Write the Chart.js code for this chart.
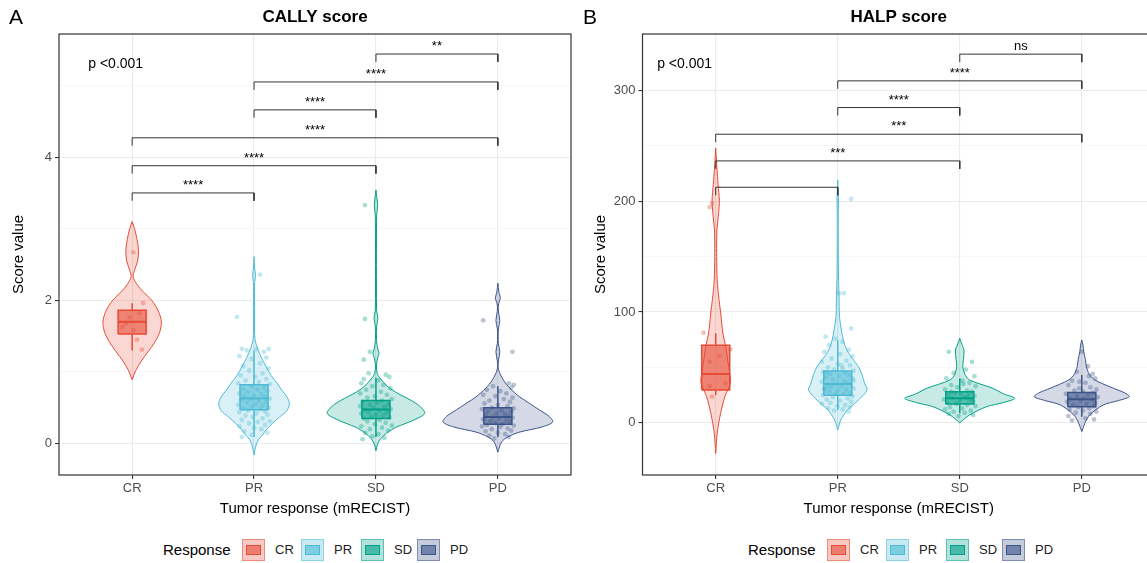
<!DOCTYPE html>
<html>
<head>
<meta charset="utf-8">
<script src="https://cdn.jsdelivr.net/npm/chart.js@4.4.1/dist/chart.umd.min.js"></script>
<style>
body{margin:0;width:1147px;height:563px;overflow:hidden;background:#fff;position:relative;font-family:"Liberation Sans",Arial,sans-serif}
canvas{position:absolute;top:0}
#cA{left:0}
#cB{left:580px}
.lg{position:absolute;top:538px;height:24px;line-height:24px;color:#000}
.lgt{font-size:15px}
.lgl{font-size:13px;color:#222}
.key{position:absolute;top:539px;width:21px;height:20px;border:1px solid}
.key i{position:absolute;left:3px;right:3px;top:5px;height:8px;border:1px solid}
</style>
</head>
<body>
<canvas id="cA" width="575" height="520"></canvas>
<canvas id="cB" width="580" height="520"></canvas>
<div id="legends"></div>
<script>
const FONT = '"Liberation Sans", Arial, sans-serif';
const cats = ['CR', 'PR', 'SD', 'PD'];
const colors = ['#E64B35', '#4DBBD5', '#00A087', '#3C5488'];
const boxHalf = 0.115;

// ---- CALLY score ----
const callyViolinY = [
	[0.89, 1.02, 1.15, 1.28, 1.40, 1.55, 1.70, 1.85, 2.00, 2.12, 2.22, 2.33, 2.42, 2.55, 2.70, 2.85, 3.00, 3.10],
	[-0.16, -0.05, 0.05, 0.12, 0.19, 0.28, 0.37, 0.46, 0.56, 0.65, 0.74, 0.84, 0.95, 1.07, 1.20, 1.32, 1.45, 1.60, 1.80, 2.00, 2.25, 2.35, 2.45, 2.61],
	[-0.10, 0.00, 0.07, 0.15, 0.23, 0.32, 0.42, 0.52, 0.61, 0.70, 0.79, 0.92, 0.98, 1.10, 1.20, 1.26, 1.32, 1.45, 1.65, 1.75, 1.85, 2.20, 2.80, 3.20, 3.33, 3.45, 3.54],
	[-0.12, 0.02, 0.09, 0.16, 0.23, 0.30, 0.38, 0.47, 0.56, 0.65, 0.77, 0.89, 1.03, 1.15, 1.28, 1.40, 1.60, 1.72, 1.85, 1.95, 2.03, 2.12, 2.24]
];
const callyViolinW = [
	[0, 0.03, 0.075, 0.13, 0.18, 0.225, 0.24, 0.215, 0.16, 0.09, 0.04, 0.008, 0.02, 0.045, 0.052, 0.04, 0.02, 0],
	[0, 0.012, 0.035, 0.07, 0.10, 0.15, 0.21, 0.27, 0.29, 0.27, 0.23, 0.19, 0.14, 0.10, 0.06, 0.03, 0.008, 0.004, 0.005, 0.004, 0.005, 0.012, 0.005, 0],
	[0, 0.015, 0.04, 0.09, 0.17, 0.30, 0.40, 0.36, 0.28, 0.18, 0.10, 0.03, 0.01, 0.004, 0.015, 0.025, 0.015, 0.004, 0.006, 0.016, 0.006, 0.004, 0.004, 0.006, 0.014, 0.006, 0],
	[0, 0.03, 0.08, 0.18, 0.36, 0.45, 0.42, 0.34, 0.26, 0.18, 0.10, 0.044, 0.006, 0.004, 0.016, 0.004, 0.004, 0.016, 0.004, 0.006, 0.02, 0.008, 0]
];
// [lower whisker, q1, median, q3, upper whisker]
const callyBox = [
	[1.30, 1.53, 1.70, 1.86, 1.96],
	[0.09, 0.47, 0.63, 0.82, 1.30],
	[0.09, 0.35, 0.475, 0.60, 0.92],
	[0.09, 0.27, 0.37, 0.50, 0.80]
];
// [jitter offset, value]
const callyPoints = [
	[[0.01, 2.67], [0.09, 1.96], [-0.02, 1.76], [-0.08, 1.63], [0.01, 1.58], [0.04, 1.45], [0.08, 1.31], [-0.05, 1.68], [0.06, 1.82]],
	[[-0.10, 1.32], [0.02, 1.32], [0.12, 1.32], [-0.06, 1.30], [0.08, 1.28], [-0.12, 1.22], [0.10, 1.20], [-0.02, 1.18], [0.05, 1.12], [-0.09, 1.08], [0.12, 1.05], [-0.04, 1.02], [0.07, 0.98], [-0.11, 0.95], [0.01, 0.93], [0.10, 0.90], [-0.07, 0.88], [0.04, 0.86], [-0.13, 0.84], [0.13, 0.83], [-0.02, 0.80], [0.08, 0.78], [-0.09, 0.76], [0.03, 0.75], [0.11, 0.73], [-0.05, 0.72], [-0.12, 0.70], [0.06, 0.69], [0.00, 0.67], [-0.08, 0.66], [0.09, 0.65], [0.13, 0.63], [-0.03, 0.62], [-0.11, 0.61], [0.04, 0.60], [0.10, 0.58], [-0.06, 0.57], [0.01, 0.55], [-0.13, 0.54], [0.07, 0.53], [-0.02, 0.51], [0.12, 0.50], [-0.09, 0.49], [0.05, 0.48], [-0.05, 0.46], [0.09, 0.45], [-0.12, 0.44], [0.02, 0.42], [0.11, 0.40], [-0.07, 0.39], [-0.01, 0.37], [0.07, 0.35], [-0.10, 0.33], [0.13, 0.31], [0.03, 0.30], [-0.04, 0.28], [0.09, 0.26], [-0.12, 0.24], [0.00, 0.22], [0.06, 0.20], [-0.08, 0.17], [0.11, 0.15], [-0.02, 0.12], [-0.10, 0.09], [-0.14, 1.77], [0.05, 2.36]],
	[[-0.06, 0.98], [0.08, 0.96], [0.11, 0.93], [-0.10, 0.90], [0.02, 0.88], [-0.12, 0.84], [0.06, 0.82], [-0.03, 0.80], [0.12, 0.77], [-0.08, 0.75], [0.04, 0.72], [-0.13, 0.70], [0.09, 0.68], [-0.01, 0.66], [-0.07, 0.64], [0.13, 0.62], [0.05, 0.60], [-0.11, 0.58], [0.01, 0.57], [0.10, 0.55], [-0.05, 0.54], [-0.13, 0.52], [0.07, 0.51], [-0.02, 0.50], [0.12, 0.48], [-0.09, 0.47], [0.03, 0.46], [-0.06, 0.44], [0.09, 0.43], [-0.12, 0.42], [0.00, 0.40], [0.06, 0.39], [-0.04, 0.37], [0.11, 0.36], [-0.10, 0.35], [0.03, 0.33], [-0.07, 0.31], [0.08, 0.29], [-0.01, 0.27], [0.13, 0.25], [-0.12, 0.24], [0.05, 0.22], [-0.05, 0.20], [0.10, 0.18], [-0.09, 0.15], [0.02, 0.13], [-0.03, 0.10], [0.07, 0.08], [-0.11, 0.06], [-0.09, 1.74], [-0.05, 1.28], [-0.10, 1.17], [-0.09, 3.33]],
	[[0.09, 0.84], [0.13, 0.82], [-0.04, 0.80], [0.11, 0.78], [-0.09, 0.75], [0.02, 0.73], [0.07, 0.70], [-0.12, 0.68], [-0.02, 0.66], [0.12, 0.64], [0.05, 0.62], [-0.07, 0.60], [0.10, 0.58], [-0.11, 0.56], [0.00, 0.54], [0.08, 0.52], [-0.05, 0.50], [0.13, 0.49], [-0.13, 0.48], [0.03, 0.46], [-0.08, 0.45], [0.11, 0.44], [-0.01, 0.42], [0.06, 0.41], [-0.10, 0.40], [0.09, 0.38], [-0.04, 0.37], [0.12, 0.36], [0.01, 0.35], [-0.12, 0.34], [0.07, 0.32], [-0.06, 0.31], [0.10, 0.30], [-0.02, 0.29], [0.04, 0.27], [-0.09, 0.26], [0.13, 0.25], [-0.13, 0.24], [0.02, 0.23], [0.08, 0.21], [-0.05, 0.20], [0.11, 0.18], [-0.10, 0.17], [0.00, 0.15], [0.06, 0.13], [-0.07, 0.11], [0.09, 0.09], [-0.03, 0.07], [-0.12, 1.72], [0.12, 1.28]]
];
const callyPairs = [[1, 2], [1, 3], [1, 4], [2, 3], [2, 4], [3, 4]];
const callyBracketY = [3.50, 3.88, 4.27, 4.66, 5.05, 5.44];
const callyLabels = ['****', '****', '****', '****', '****', '**'];

// ---- HALP score ----
const halpViolinY = [
	[-27.7, -9.6, 8.5, 23.5, 35.8, 44.6, 55, 68.7, 80, 89.8, 100, 111, 129, 150, 165, 174, 185, 195, 201, 215, 230, 248],
	[-6.6, 2.4, 11.5, 20.5, 29.5, 35.6, 43, 50.6, 58, 65.7, 75, 83.7, 95, 104.8, 117, 132, 160, 190, 203, 219],
	[0, 7, 14.5, 18, 22, 26, 31.1, 38.6, 44, 50.6, 57, 65.7, 70, 76.2],
	[-8.1, -0.5, 7, 16, 20, 23.5, 27, 31.1, 38.6, 44, 50.6, 57, 64, 70, 74.7]
];
const halpViolinW = [
	[0, 0.012, 0.04, 0.075, 0.12, 0.115, 0.10, 0.082, 0.06, 0.049, 0.04, 0.027, 0.012, 0.008, 0.008, 0.01, 0.02, 0.028, 0.03, 0.02, 0.01, 0],
	[0, 0.025, 0.08, 0.17, 0.24, 0.22, 0.20, 0.17, 0.12, 0.074, 0.045, 0.03, 0.015, 0.012, 0.01, 0.006, 0.004, 0.004, 0.006, 0],
	[0, 0.08, 0.22, 0.35, 0.45, 0.36, 0.27, 0.08, 0.04, 0.025, 0.03, 0.035, 0.02, 0],
	[0, 0.025, 0.065, 0.175, 0.30, 0.39, 0.35, 0.26, 0.107, 0.06, 0.038, 0.03, 0.016, 0.01, 0]
];
const halpBox = [
	[25, 29.5, 44, 69.9, 80.8],
	[11.5, 24.7, 35, 46.7, 74.7],
	[8.5, 16.9, 22, 28, 40],
	[5.4, 14.5, 21.1, 27.4, 43.1]
];
const halpPoints = [
	[[-0.05, 194.6], [-0.03, 198], [-0.10, 81.3], [0.12, 66.3], [-0.05, 55], [-0.05, 33], [-0.03, 23.5], [0.08, 35.6], [0.03, 60]],
	[[0.01, 117], [0.05, 117], [0.11, 202], [0.11, 85], [-0.10, 77.7], [-0.02, 76], [0.04, 73], [-0.07, 70], [0.09, 66], [-0.11, 64], [0.02, 62], [0.12, 60], [-0.05, 58], [0.07, 56], [-0.13, 55], [0.00, 53], [0.10, 52], [-0.08, 50], [0.04, 49], [-0.03, 48], [0.13, 47], [-0.12, 46], [0.06, 45], [-0.06, 44], [0.09, 43], [0.01, 42], [-0.10, 41], [0.12, 40], [-0.04, 39], [0.05, 38], [-0.13, 37], [0.08, 36], [-0.01, 35], [0.11, 34], [-0.08, 33], [0.03, 33], [-0.05, 32], [0.13, 31], [-0.11, 30], [0.07, 30], [0.00, 29], [-0.07, 28], [0.10, 27], [-0.02, 26], [0.05, 26], [-0.12, 25], [0.12, 24], [-0.04, 23], [0.08, 22], [-0.09, 21], [0.02, 20], [0.11, 19], [-0.06, 18], [-0.13, 17], [0.06, 16], [0.00, 15], [0.10, 14], [-0.08, 13], [0.04, 12], [-0.03, 11], [0.09, 10], [-0.11, 31], [0.13, 38], [-0.09, 45], [0.03, 52]],
	[[-0.09, 64], [0.10, 55], [0.05, 48], [-0.05, 45], [0.12, 42], [-0.11, 40], [0.02, 38], [0.08, 36], [-0.07, 34], [0.13, 33], [-0.02, 32], [-0.12, 30], [0.06, 29], [0.10, 28], [-0.04, 27], [0.01, 26], [-0.09, 25], [0.12, 24], [0.04, 23], [-0.06, 22], [-0.13, 21], [0.08, 21], [0.00, 20], [0.11, 19], [-0.10, 18], [-0.03, 17], [0.06, 16], [0.13, 15], [-0.08, 14], [0.02, 13], [-0.12, 12], [0.09, 11], [-0.05, 10], [0.04, 9], [-0.09, 8], [0.11, 7], [-0.01, 6], [0.07, 25], [-0.07, 28], [0.03, 35]],
	[[0.00, 64], [0.05, 51], [-0.04, 46], [0.09, 44], [0.11, 40], [-0.08, 38], [0.03, 36], [-0.11, 34], [0.07, 32], [-0.02, 31], [0.12, 30], [-0.06, 29], [0.01, 28], [0.09, 27], [-0.13, 26], [0.05, 25], [-0.04, 24], [0.13, 23], [-0.09, 22], [0.02, 22], [0.08, 21], [-0.01, 20], [-0.12, 19], [0.11, 18], [0.04, 17], [-0.07, 16], [0.10, 15], [-0.03, 14], [0.06, 13], [-0.10, 12], [0.01, 11], [0.12, 10], [-0.05, 9], [0.07, 8], [-0.11, 6], [0.03, 4], [-0.08, 2], [0.10, 3], [-0.02, 37], [0.06, 42]]
];
const halpPairs = [[1, 2], [1, 3], [1, 4], [2, 3], [2, 4], [3, 4]];
const halpBracketY = [212.6, 236.4, 260.5, 284.6, 308.7, 332.8];
const halpLabels = ['', '***', '***', '****', '****', 'ns'];

function rgba(hex, a) {
	const n = parseInt(hex.slice(1), 16);
	return `rgba(${n >> 16}, ${(n >> 8) & 255}, ${n & 255}, ${a})`;
}

function montarDatasets(violY, violW, boxes, pts, pairs, bracketY, drop) {
	const ds = [];
	cats.forEach((c, i) => {
		const x0 = i + 1;
		const cor = colors[i];
		const dir = violY[i].map((v, k) => ({ x: x0 + violW[i][k], y: v }));
		const esq = violY[i].map((v, k) => ({ x: x0 - violW[i][k], y: v })).reverse();
		ds.push({ data: dir.concat(esq), fill: 'shape', backgroundColor: rgba(cor, 0.22), borderColor: cor, borderWidth: 1, pointRadius: 0, tension: 0.3, order: 6 });

		const [lo, q1, md, q3, hi] = boxes[i];
		ds.push({
			data: [{ x: x0 - boxHalf, y: q1 }, { x: x0 + boxHalf, y: q1 }, { x: x0 + boxHalf, y: q3 }, { x: x0 - boxHalf, y: q3 }, { x: x0 - boxHalf, y: q1 }],
			fill: 'shape', backgroundColor: rgba(cor, 0.6), borderColor: cor, borderWidth: 1.5, pointRadius: 0, tension: 0, order: 5
		});
		ds.push({
			data: [{ x: x0, y: lo }, { x: x0, y: q1 }, { x: x0, y: null }, { x: x0, y: q3 }, { x: x0, y: hi }],
			fill: false, borderColor: cor, borderWidth: 1.5, pointRadius: 0, tension: 0, spanGaps: false, order: 4
		});
		ds.push({
			data: [{ x: x0 - boxHalf, y: md }, { x: x0 + boxHalf, y: md }],
			fill: false, borderColor: cor, borderWidth: 2, pointRadius: 0, tension: 0, order: 4
		});
		ds.push({
			data: pts[i].map(p => ({ x: x0 + p[0], y: p[1] })),
			showLine: false, pointRadius: 2.4, pointBackgroundColor: rgba(cor, 0.35), pointBorderWidth: 0, order: 3
		});
	});
	pairs.forEach((p, i) => {
		const y = bracketY[i];
		ds.push({
			data: [{ x: p[0], y: y - drop }, { x: p[0], y: y }, { x: p[1], y: y }, { x: p[1], y: y - drop }],
			fill: false, borderColor: '#333', borderWidth: 1, pointRadius: 0, tension: 0, order: 1
		});
	});
	return ds;
}

function anotacoes(cfg) {
	return {
		id: 'anot',
		afterDraw(chart) {
			const { ctx, chartArea: a, scales: { x, y } } = chart;
			ctx.save();
			ctx.strokeStyle = '#333';
			ctx.lineWidth = 1.2;
			ctx.strokeRect(a.left, a.top, a.right - a.left, a.bottom - a.top);

			ctx.fillStyle = '#000';
			ctx.textAlign = 'center';
			ctx.textBaseline = 'alphabetic';
			ctx.font = '13px ' + FONT;
			cfg.pairs.forEach((p, i) => {
				ctx.fillText(cfg.labels[i], x.getPixelForValue((p[0] + p[1]) / 2), y.getPixelForValue(cfg.bracketY[i]) - 4);
			});

			ctx.textAlign = 'left';
			ctx.textBaseline = 'middle';
			ctx.font = '14px ' + FONT;
			ctx.fillText('p <0.001', x.getPixelForValue(cfg.pX), y.getPixelForValue(cfg.pY));

			ctx.textAlign = 'center';
			ctx.font = 'bold 17px ' + FONT;
			ctx.fillText(cfg.titulo, (a.left + a.right) / 2, 17);

			ctx.textAlign = 'left';
			ctx.font = '21px ' + FONT;
			ctx.fillText(cfg.letra, cfg.letraX, 18);
			ctx.restore();
		}
	};
}

function criarGrafico(id, cfg) {
	const ctx = document.getElementById(id).getContext('2d');
	return new Chart(ctx, {
		type: 'line',
		data: { datasets: montarDatasets(cfg.violY, cfg.violW, cfg.boxes, cfg.pts, cfg.pairs, cfg.bracketY, cfg.drop) },
		options: {
			responsive: false,
			animation: false,
			layout: { padding: { top: 34, right: cfg.padRight, left: 0, bottom: 0 } },
			plugins: { legend: { display: false }, tooltip: { enabled: false }, title: { display: false } },
			scales: {
				x: {
					type: 'linear', min: 0.4, max: 4.6,
					afterBuildTicks: s => { s.ticks = [1, 2, 3, 4].map(v => ({ value: v })); },
					afterFit: s => { s.height = 45; },
					ticks: { callback: v => cats[v - 1], color: '#4d4d4d', font: { size: 13, family: FONT }, padding: 2, autoSkip: false, maxRotation: 0 },
					grid: { color: '#ebebeb', lineWidth: 1.1, tickLength: 4, tickColor: '#333' },
					border: { display: false },
					title: { display: true, text: 'Tumor response (mRECIST)', color: '#000', font: { size: 15, family: FONT }, padding: { top: 2, bottom: 2 } }
				},
				y: {
					type: 'linear', min: cfg.yMin, max: cfg.yMax,
					afterBuildTicks: s => { s.ticks = cfg.yTicks.map(v => ({ value: v })); },
					afterFit: s => { s.width = cfg.yWidth; },
					ticks: { callback: v => (cfg.yLabeled.includes(v) ? String(v) : ''), color: '#4d4d4d', font: { size: 13, family: FONT }, padding: 3 },
					grid: {
						color: c => (cfg.yLabeled.includes(c.tick.value) ? '#ebebeb' : '#f3f3f3'),
						lineWidth: c => (cfg.yLabeled.includes(c.tick.value) ? 1.1 : 0.7),
						tickColor: c => (cfg.yLabeled.includes(c.tick.value) ? '#333' : 'rgba(0,0,0,0)'),
						tickLength: 4
					},
					border: { display: false },
					title: { display: true, text: 'Score value', color: '#000', font: { size: 15, family: FONT }, padding: { top: cfg.yTitlePad, bottom: 0 } }
				}
			}
		},
		plugins: [anotacoes(cfg)]
	});
}

criarGrafico('cA', {
	violY: callyViolinY, violW: callyViolinW, boxes: callyBox, pts: callyPoints,
	pairs: callyPairs, bracketY: callyBracketY, labels: callyLabels, drop: 0.11,
	yMin: -0.44, yMax: 5.72, yTicks: [0, 1, 2, 3, 4, 5], yLabeled: [0, 2, 4], yWidth: 59, padRight: 4, yTitlePad: 10,
	pX: 0.64, pY: 5.3, titulo: 'CALLY score', letra: 'A', letraX: 9
});

criarGrafico('cB', {
	violY: halpViolinY, violW: halpViolinW, boxes: halpBox, pts: halpPoints,
	pairs: halpPairs, bracketY: halpBracketY, labels: halpLabels, drop: 7.2,
	yMin: -47.2, yMax: 351, yTicks: [0, 50, 100, 150, 200, 250, 300], yLabeled: [0, 100, 200, 300], yWidth: 62.5, padRight: 5, yTitlePad: 12,
	pX: 0.52, pY: 324, titulo: 'HALP score', letra: 'B', letraX: 3
});

// legendas
function montarLegenda(inicio) {
	const box = document.getElementById('legends');
	const offsets = [0, 59, 119, 175];
	const t = document.createElement('div');
	t.className = 'lg lgt';
	t.style.left = (inicio - 79) + 'px';
	t.textContent = 'Response';
	box.appendChild(t);
	cats.forEach((c, i) => {
		const k = document.createElement('div');
		k.className = 'key';
		k.style.left = (inicio + offsets[i]) + 'px';
		k.style.borderColor = rgba(colors[i], 0.5);
		k.style.background = rgba(colors[i], 0.3);
		const inner = document.createElement('i');
		inner.style.borderColor = colors[i];
		inner.style.background = rgba(colors[i], 0.6);
		k.appendChild(inner);
		box.appendChild(k);
		const l = document.createElement('div');
		l.className = 'lg lgl';
		l.style.left = (inicio + offsets[i] + 33) + 'px';
		l.textContent = c;
		box.appendChild(l);
	});
}
montarLegenda(242);
montarLegenda(827);
</script>
</body>
</html>
